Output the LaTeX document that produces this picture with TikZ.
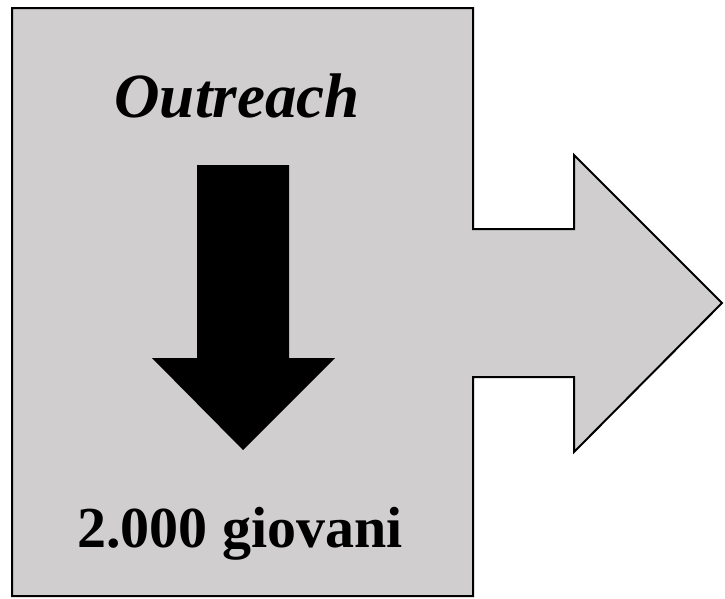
\documentclass[tikz,border=0pt]{standalone}
\usepackage{fontspec}
\setmainfont{Liberation Serif}
\definecolor{panelgrey}{RGB}{208,206,207}
\tikzset{
  panel/.style={draw=black, line width=2pt, fill=panelgrey, line join=miter},
  bigtext/.style={font=\bfseries, inner sep=0pt, anchor=base}
}
\begin{document}
\begin{tikzpicture}[x=1pt,y=-1pt]
  \useasboundingbox (0,0) rectangle (725,598);
  % box with the arrow pointing right
  \draw [panel] (12,8) -- (473,8) -- (473,229) -- (574,229) -- (574,155)
    -- (722,303) -- (574,452) -- (574,377) -- (473,377) -- (473,596)
    -- (12,596) -- cycle;
  % arrow pointing down
  \fill [black] (197,165) -- (289,165) -- (289,358) -- (335,358) -- (243,450)
    -- (152,358) -- (197,358) -- cycle;
  \node [bigtext] (outreach) at (237,117) {\fontsize{63}{70}\selectfont\itshape Outreach};
  \node [bigtext] (giovani) at (240,547) {\fontsize{58}{70}\selectfont 2.000 giovani};
\end{tikzpicture}
\end{document}
